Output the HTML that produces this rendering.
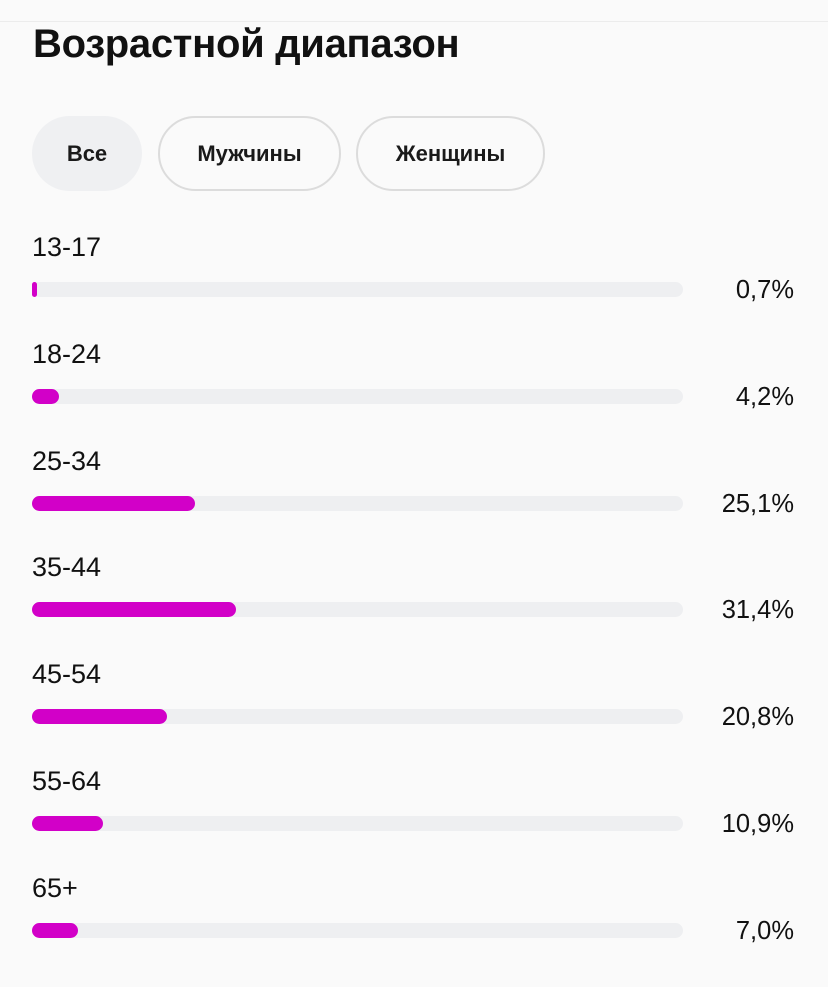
<!DOCTYPE html>
<html><head><meta charset="utf-8">
<style>
html,body{margin:0;padding:0;}
body{width:828px;height:987px;background:#fafafa;position:relative;overflow:hidden;font-family:"Liberation Sans","DejaVu Sans",sans-serif;color:#111;}
.topline{position:absolute;left:0;top:21px;width:828px;height:1px;background:#ececec;}
h1{position:absolute;left:33px;top:22px;margin:0;font-size:40px;font-weight:bold;letter-spacing:-0.3px;color:#111;}
.pill{position:absolute;top:116px;height:75px;border-radius:38px;box-sizing:border-box;font-size:22px;font-weight:bold;display:flex;align-items:center;justify-content:center;color:#1a1a1a;}
.row-label{position:absolute;left:32px;font-size:27px;color:#111;}
.track{position:absolute;left:32px;width:651px;height:15px;border-radius:8px;background:#eeeff1;}
.bar{position:absolute;left:0;top:0;height:15px;border-radius:8px;background:#d200c8;}
.pct{position:absolute;right:34px;font-size:25.5px;color:#111;}
</style></head><body>
<div class="topline"></div>
<h1>Возрастной диапазон</h1>
<div class="pill" style="left:32px;width:110px;background:#eff0f2;">Все</div>
<div class="pill" style="left:158px;width:183px;border:2px solid #dcdcdc;">Мужчины</div>
<div class="pill" style="left:356px;width:189px;border:2px solid #dcdcdc;">Женщины</div>
<div id="chart"></div>
<script>
const categories = ["13-17","18-24","25-34","35-44","45-54","55-64","65+"];
const values = [0.7,4.2,25.1,31.4,20.8,10.9,7.0];
const valueLabels = ["0,7%","4,2%","25,1%","31,4%","20,8%","10,9%","7,0%"];
const chart = document.getElementById('chart');
const trackW = 651, maxV = 100;
function xScale(v){ return Math.max(5, v / maxV * trackW); }
function rowY(i){ return 282 + i * 106.8; }
categories.forEach((c, i) => {
  const y = rowY(i);
  const lab = document.createElement('div');
  lab.className = 'row-label';
  lab.style.top = (y - 50) + 'px';
  lab.textContent = c;
  
  
  chart.appendChild(lab);
  const tr = document.createElement('div');
  tr.className = 'track';
  tr.style.top = y + 'px';
  
  
  const b = document.createElement('div');
  b.className = 'bar';
  b.style.width = xScale(values[i]) + 'px';
  
  
  tr.appendChild(b);
  chart.appendChild(tr);
  const p = document.createElement('div');
  p.className = 'pct';
  p.style.top = (y - 6) + 'px';
  p.textContent = valueLabels[i];
  
  
  chart.appendChild(p);
});
</script>
</body></html>
